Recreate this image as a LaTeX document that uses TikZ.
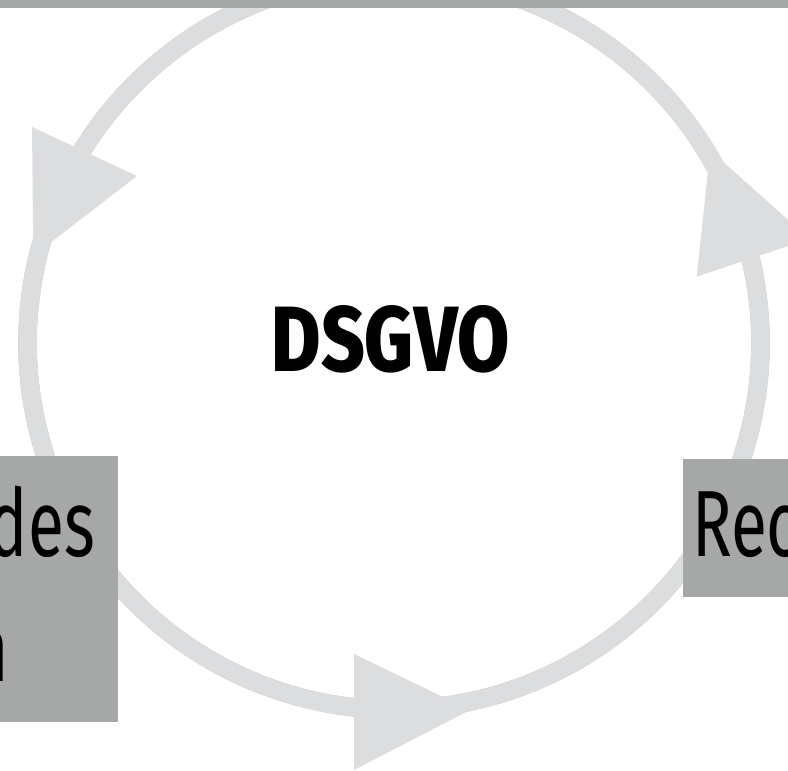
\documentclass[tikz,border=0pt]{standalone}
\usepackage{fontspec}
\usetikzlibrary{calc}
\newfontfamily\boxfont{Fira Sans}[FakeStretch=0.7]
\IfFontExistsTF{Fira Sans ExtraBold}{\newfontfamily\titlefont{Fira Sans ExtraBold}}{\newfontfamily\titlefont{Fira Sans}\let\oldtf\titlefont\def\titlefont{\oldtf\bfseries}}
\definecolor{ringgray}{HTML}{DCDDDF}
\definecolor{boxgray}{HTML}{A5A8A7}
\definecolor{shadowgray}{HTML}{B6B7B9}
\tikzset{
  ringarc/.style={draw=ringgray, line width=18.5pt},
  ringshadow/.style={draw=shadowgray, line width=18.5pt, shift={(-1.4,-1.4)}},
  arrowhd/.style={fill=ringgray, draw=none},
  graybox/.style={fill=boxgray, draw=none},
  boxtext/.style={font=\boxfont\fontsize{94}{125}\selectfont, text=black, inner sep=0pt},
}
\begin{document}
\begin{tikzpicture}[x=1pt,y=1pt]
\useasboundingbox (0,0) rectangle (788,771);
\fill[white] (0,0) rectangle (788,771);
\coordinate (c) at (394,428);
\def\R{366.5}
% shadows of the arcs
\draw[ringshadow] ($(c)+(26.4:\R)$) arc[start angle=26.4, end angle=150.25, radius=\R];
\draw[ringshadow] ($(c)+(161.4:\R)$) arc[start angle=161.4, end angle=265.8, radius=\R];
\draw[ringshadow] ($(c)+(276.7:\R)$) arc[start angle=276.7, end angle=375.35, radius=\R];
% arcs
\draw[ringarc] ($(c)+(26.4:\R)$) arc[start angle=26.4, end angle=150.25, radius=\R];
\draw[ringarc] ($(c)+(161.4:\R)$) arc[start angle=161.4, end angle=265.8, radius=\R];
\draw[ringarc] ($(c)+(276.7:\R)$) arc[start angle=276.7, end angle=375.35, radius=\R];
% arrowheads
\coordinate (atip) at (33.3,515.1);
\coordinate (abase1) at (32,644);
\coordinate (abase2) at (137,595);
\fill[arrowhd] (abase1) -- (abase2) -- (atip) -- cycle;
\coordinate (btip) at (470,61);
\coordinate (bbase1) at (354,117);
\coordinate (bbase2) at (354,1);
\fill[arrowhd] (bbase1) -- (btip) -- (bbase2) -- cycle;
\coordinate (ctip) at (710.2,620.8);
\coordinate (cbase1) at (696.7,494.3);
\coordinate (cbase2) at (809.3,532.1);
\fill[arrowhd] (cbase1) -- (ctip) -- (cbase2) -- cycle;
% top band
\fill[graybox] (0,763) rectangle (788,771);
% boxes
\fill[graybox] (0,49) rectangle (118,315);
\fill[graybox] (683,174) rectangle (788,312);
% texts
\node[boxtext, anchor=base east] (des) at (95,214) {des};
\node[boxtext, anchor=base east] (n) at (9,89) {n};
\node[boxtext, anchor=base west] (rec) at (692,214) {Rec};
\node[inner sep=0pt] (title) at (390.5,431.3) {\resizebox{237.6pt}{66pt}{\titlefont DSGVO}};
\end{tikzpicture}
\end{document}
